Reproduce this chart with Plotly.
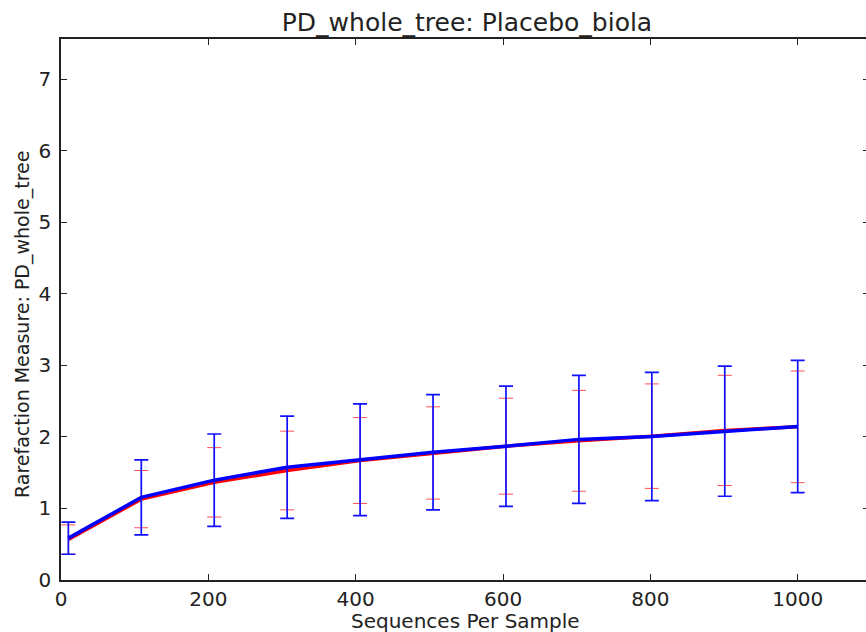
import plotly.graph_objects as go

seqs = [10, 109, 208, 307, 406, 505, 604, 703, 802, 901, 1000]

red_mean = [0.565, 1.13, 1.365, 1.53, 1.67, 1.775, 1.87, 1.945, 2.01, 2.09, 2.14]
red_std = [0.205, 0.40, 0.485, 0.55, 0.60, 0.645, 0.67, 0.705, 0.73, 0.77, 0.78]

blue_mean = [0.585, 1.155, 1.395, 1.575, 1.68, 1.785, 1.87, 1.965, 2.005, 2.08, 2.145]
blue_std = [0.225, 0.525, 0.645, 0.715, 0.78, 0.805, 0.84, 0.895, 0.895, 0.91, 0.925]

y_ticks = [0, 1, 2, 3, 4, 5, 6, 7]
x_ticks = [0, 200, 400, 600, 800, 1000]

FONT = "DejaVu Sans, Liberation Sans, sans-serif"

# plot area in pixels (for placing the axis titles)
PL, PR, PT, PB = 61, 866, 39, 580
PW, PH = PR - PL, PB - PT

fig = go.Figure()
fig.add_trace(go.Scatter(
    x=seqs, y=red_mean, mode="lines",
    line=dict(color="#ff0000", width=3.5),
    error_y=dict(type="data", array=red_std, visible=True,
                 color="#ff5050", thickness=1.0, width=7),
    showlegend=False,
))
fig.add_trace(go.Scatter(
    x=seqs, y=blue_mean, mode="lines",
    line=dict(color="#0000ff", width=3.5),
    error_y=dict(type="data", array=blue_std, visible=True,
                 color="#1010ff", thickness=1.7, width=7),
    showlegend=False,
))
# invisible trace to carry the right-hand tick axis
fig.add_trace(go.Scatter(x=[seqs[0]], y=[blue_mean[0]], yaxis="y2",
                         mode="markers", marker=dict(opacity=0),
                         showlegend=False, hoverinfo="skip"))

fig.update_layout(
    width=866, height=632,
    margin=dict(l=PL, r=866 - PR, t=PT, b=632 - PB),
    paper_bgcolor="white", plot_bgcolor="white",
    font=dict(family=FONT, size=19, color="#222222"),
    title=dict(text="PD_whole_tree: Placebo_biola", xref="container", yref="container",
               x=467/866, y=1-22/632, xanchor="center", yanchor="middle",
               font=dict(size=25, color="#222222")),
    xaxis=dict(range=[0, 1092.7], tickvals=x_ticks, ticks="inside", ticklen=6,
               tickcolor="#222", showline=True, linecolor="#222", linewidth=1.5,
               mirror="ticks", showgrid=False, zeroline=False,
               tickfont=dict(size=20)),
    yaxis=dict(range=[0, 7.56], tickvals=y_ticks, ticks="inside", ticklen=6,
               tickcolor="#222", showline=True, linecolor="#222", linewidth=1.5,
               showgrid=False, zeroline=False, tickfont=dict(size=20),
               ticklabelstandoff=4),
    yaxis2=dict(range=[0, 7.56], tickvals=y_ticks, overlaying="y", side="right",
                ticks="inside", ticklen=3, tickcolor="#222", showline=False,
                showticklabels=False, showgrid=False, zeroline=False),
    annotations=[
        dict(text="Rarefaction Measure: PD_whole_tree", textangle=-90,
             xref="paper", yref="paper", x=(22 - PL) / PW,
             y=(PB - 325) / PH, xanchor="center", yanchor="middle",
             showarrow=False, font=dict(size=19, color="#222222")),
        dict(text="Sequences Per Sample", xref="paper", yref="paper",
             x=(466 - PL) / PW, y=(PB - 621) / PH, xanchor="center", yanchor="middle",
             showarrow=False, font=dict(size=20, color="#222222")),
    ],
)

fig.write_html("out.html")
